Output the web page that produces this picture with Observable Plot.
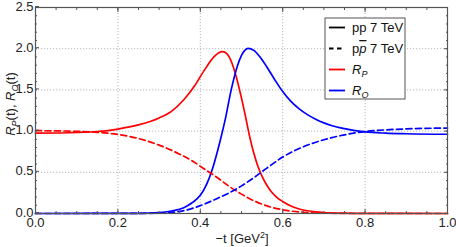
<!DOCTYPE html>
<html>
<head>
<meta charset="utf-8">
<script src="https://cdn.jsdelivr.net/npm/d3@7"></script>
<script src="https://cdn.jsdelivr.net/npm/@observablehq/plot@0.6"></script>
<style>
  html, body { margin: 0; padding: 0; background: #fff; }
  #chart { position: relative; width: 456px; height: 247px; }
  svg { font-family: "Liberation Sans", Arial, sans-serif; }
</style>
</head>
<body>
<div id="chart"></div>
<script>
// ---- data ----
const xTicks = [0, 0.2, 0.4, 0.6, 0.8, 1.0];
const yTicks = [0, 0.5, 1.0, 1.5, 2.0, 2.5];

// pp 7 TeV, R_P (solid red)
const ppRP_t = [0, 0.1, 0.15, 0.2, 0.25, 0.28, 0.3, 0.33, 0.36, 0.385, 0.41, 0.433, 0.445, 0.453, 0.462, 0.47, 0.485, 0.5, 0.51, 0.52, 0.53, 0.54, 0.55, 0.56, 0.57, 0.585, 0.6, 0.62, 0.64, 0.66, 0.68, 0.7, 0.75, 0.8, 1.0];
const ppRP   = [0.975, 0.983, 0.995, 1.025, 1.075, 1.12, 1.16, 1.24, 1.38, 1.54, 1.74, 1.90, 1.95, 1.965, 1.95, 1.90, 1.70, 1.40, 1.17, 0.93, 0.73, 0.57, 0.45, 0.355, 0.28, 0.20, 0.145, 0.09, 0.055, 0.033, 0.02, 0.012, 0.004, 0.001, 0];

// pp 7 TeV, R_O (solid blue)
const ppRO_t = [0, 0.25, 0.3, 0.33, 0.36, 0.38, 0.4, 0.415, 0.43, 0.445, 0.46, 0.475, 0.49, 0.5, 0.508, 0.516, 0.53, 0.545, 0.56, 0.58, 0.6, 0.62, 0.64, 0.66, 0.68, 0.7, 0.72, 0.75, 0.8, 0.85, 0.9, 1.0];
const ppRO   = [0, 0.002, 0.01, 0.03, 0.07, 0.13, 0.22, 0.35, 0.55, 0.82, 1.13, 1.50, 1.79, 1.92, 1.98, 2.005, 1.98, 1.90, 1.79, 1.63, 1.48, 1.36, 1.27, 1.20, 1.145, 1.10, 1.065, 1.03, 0.99, 0.975, 0.968, 0.962];

// p-pbar 7 TeV, R_P (dashed red)
const pbRP_t = [0, 0.05, 0.1, 0.15, 0.2, 0.25, 0.3, 0.35, 0.38, 0.41, 0.44, 0.47, 0.5, 0.53, 0.56, 0.6, 0.65, 0.7, 0.8, 1.0];
const pbRP   = [1.005, 1.003, 0.997, 0.985, 0.96, 0.91, 0.83, 0.72, 0.64, 0.54, 0.44, 0.33, 0.235, 0.155, 0.095, 0.045, 0.015, 0.004, 0, 0];

// p-pbar 7 TeV, R_O (dashed blue)
const pbRO_t = [0, 0.25, 0.3, 0.35, 0.4, 0.44, 0.47, 0.5, 0.53, 0.56, 0.6, 0.65, 0.7, 0.75, 0.8, 0.85, 0.9, 0.95, 1.0];
const pbRO   = [0, 0.001, 0.005, 0.025, 0.095, 0.18, 0.25, 0.335, 0.435, 0.545, 0.685, 0.81, 0.895, 0.955, 0.995, 1.015, 1.027, 1.034, 1.037];

const series = [
  {name: "ppRP", t: ppRP_t, v: ppRP, color: "#ff0000", dash: null},
  {name: "ppRO", t: ppRO_t, v: ppRO, color: "#0000ff", dash: null},
  {name: "pbRP", t: pbRP_t, v: pbRP, color: "#ff0000", dash: "6,3.5"},
  {name: "pbRO", t: pbRO_t, v: pbRO, color: "#0000ff", dash: "6,3.5"}
];
const rows = s => s.t.map((t, i) => ({t, v: s.v[i]}));

const frameColor = "#555";
const minorX = d3.range(0, 1.0001, 0.05);
const minorY = d3.range(0, 2.5001, 0.1);

const lineMarks = series.map(s => Plot.line(rows(s), {
  x: "t", y: "v", stroke: s.color, strokeWidth: 1.7,
  strokeDasharray: s.dash, curve: "monotone-x"
}));

const plot = Plot.plot({
  width: 456,
  height: 247,
  marginLeft: 35,
  marginRight: 9,
  marginTop: 7,
  marginBottom: 34,
  style: {fontFamily: "Liberation Sans, Arial, sans-serif", fontSize: "13px", background: "#fff"},
  x: {domain: [0, 1.0]},
  y: {domain: [0, 2.5]},
  marks: [
    Plot.gridX(xTicks, {stroke: "#b8b8b8", strokeOpacity: 1, strokeDasharray: "1.2,1.8"}),
    Plot.gridY(yTicks, {stroke: "#b8b8b8", strokeOpacity: 1, strokeDasharray: "1.2,1.8"}),
    ...lineMarks,
    Plot.frame({stroke: frameColor, strokeWidth: 1.2}),
    // major ticks, inward
    Plot.axisX({anchor: "bottom", ticks: xTicks, tickSize: -4, tickFormat: d3.format(".1f"), stroke: frameColor, fill: "#222", fontSize: 13, tickPadding: 8, label: null}),
    Plot.axisX({anchor: "top", ticks: xTicks, tickSize: -4, text: null, stroke: frameColor, label: null}),
    Plot.axisY({anchor: "left", ticks: yTicks, tickSize: -4, tickFormat: d3.format(".1f"), stroke: frameColor, fill: "#222", fontSize: 13, tickPadding: 6, dy: -1, label: null}),
    Plot.axisY({anchor: "right", ticks: yTicks, tickSize: -4, text: null, stroke: frameColor, label: null}),
    // minor ticks, inward
    Plot.axisX({anchor: "bottom", ticks: minorX, tickSize: -2, text: null, stroke: frameColor, label: null}),
    Plot.axisX({anchor: "top", ticks: minorX, tickSize: -2, text: null, stroke: frameColor, label: null}),
    Plot.axisY({anchor: "left", ticks: minorY, tickSize: -2, text: null, stroke: frameColor, label: null}),
    Plot.axisY({anchor: "right", ticks: minorY, tickSize: -2, text: null, stroke: frameColor, label: null})
  ]
});

document.getElementById("chart").appendChild(plot);

const svg = d3.select(plot);
const font = "Liberation Sans, Arial, sans-serif";

// x-axis label: −t [GeV²]
const xl = svg.append("text")
  .attr("x", 242).attr("y", 243)
  .attr("text-anchor", "middle")
  .attr("font-family", font).attr("font-size", 13).attr("fill", "#222");
xl.append("tspan").text("\u2212t [GeV");
xl.append("tspan").attr("dy", -5).attr("font-size", 9).text("2");
xl.append("tspan").attr("dy", 5).text("]");

// y-axis label: R_P(t), R_O(t)
const yl = svg.append("text")
  .attr("transform", "translate(15,104) rotate(-90)")
  .attr("text-anchor", "middle")
  .attr("font-family", font).attr("font-size", 13).attr("fill", "#222");
yl.append("tspan").attr("font-style", "italic").text("R");
yl.append("tspan").attr("font-style", "italic").attr("font-size", 9).attr("dy", 3).text("P");
yl.append("tspan").attr("dy", -3).text("(t), ");
yl.append("tspan").attr("font-style", "italic").text("R");
yl.append("tspan").attr("font-style", "italic").attr("font-size", 9).attr("dy", 3).text("O");
yl.append("tspan").attr("dy", -3).text("(t)");

// legend
const lg = svg.append("g").attr("transform", "translate(325,18)");
lg.append("rect").attr("width", 80).attr("height", 81)
  .attr("fill", "#fff").attr("stroke", "#555").attr("stroke-width", 1);
const legendItems = [
  {color: "#000", dash: null, label: "pp"},
  {color: "#000", dash: "4.5,3.5", label: "ppbar"},
  {color: "#ff0000", dash: null, label: "RP"},
  {color: "#0000ff", dash: null, label: "RO"}
];
legendItems.forEach((it, i) => {
  const y = 9.5 + i * 21;
  lg.append("line").attr("x1", 4).attr("x2", 20).attr("y1", y).attr("y2", y)
    .attr("stroke", it.color).attr("stroke-width", 1.8)
    .attr("stroke-dasharray", it.dash);
  const t = lg.append("text").attr("x", 27).attr("y", y + 4.5)
    .attr("text-anchor", "start")
    .attr("font-family", font).attr("font-size", 13).attr("fill", "#111");
  if (it.label === "pp") {
    t.text("pp 7 TeV");
  } else if (it.label === "ppbar") {
    t.append("tspan").text("p");
    t.append("tspan").attr("font-style", "italic").attr("text-decoration", "overline").text("p");
    t.append("tspan").text(" 7 TeV");
  } else {
    t.append("tspan").attr("font-style", "italic").text("R");
    t.append("tspan").attr("font-style", "italic").attr("font-size", 9).attr("dy", 3)
      .text(it.label === "RP" ? "P" : "O");
  }
});
</script>
</body>
</html>
